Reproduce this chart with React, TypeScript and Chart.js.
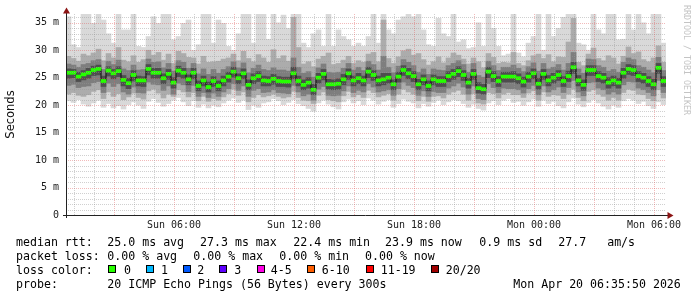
import React, { useEffect, useRef } from 'react';
import { Chart, registerables } from 'chart.js';

Chart.register(...registerables);

// ---- time axis (hours since Sun 00:00) ----
const startHour = 0.6;
const endHour = 30.6;
const binHours = 0.25;

// ---- median rtt per bin (ms) ----
const median = [
  25.9, 25.9, 25.2, 25.6, 25.9, 26.4, 26.6, 24.4, 26.3, 25.8,
  26.2, 24.6, 24.0, 25.5, 24.5, 24.5, 26.6, 25.9, 25.9, 24.9,
  25.7, 24.1, 26.3, 25.9, 24.7, 25.9, 23.5, 24.5, 23.3, 24.4,
  23.5, 24.5, 25.2, 26.1, 24.9, 25.8, 23.7, 24.9, 25.3, 24.5,
  24.4, 24.8, 24.4, 24.3, 24.3, 25.8, 24.4, 23.7, 24.1, 22.8,
  25.0, 25.7, 23.8, 23.8, 23.9, 24.7, 25.8, 24.5, 24.9, 24.5,
  26.1, 25.5, 24.5, 24.7, 25.0, 23.8, 25.2, 26.4, 25.8, 25.3,
  23.8, 24.7, 23.5, 24.7, 24.4, 24.4, 25.3, 25.7, 26.2, 25.5,
  24.1, 25.7, 23.1, 22.9, 26.1, 25.3, 24.4, 25.2, 25.2, 25.2,
  24.9, 24.3, 25.2, 25.8, 23.9, 25.7, 24.5, 25.0, 25.5, 24.4,
  25.3, 26.9, 24.5, 23.7, 26.4, 26.4, 25.3, 25.0, 24.1, 24.5,
  24.1, 25.9, 26.6, 26.4, 25.3, 25.0, 24.4, 23.8, 26.8, 24.4,
];

// ---- smoke: outermost (lightest) band ----
const smokeMax = [
  36.1, 31.0, 30.5, 37, 37, 34.9, 37, 35.5, 33.0, 31.3,
  37, 33.7, 33.7, 37, 30.7, 30.5, 32.5, 36.1, 34.9, 37,
  37, 31.9, 32.5, 34.9, 35.5, 30.0, 31.0, 37, 37, 31.3,
  35.5, 34.9, 30.7, 30.0, 33.0, 37, 37, 31.3, 37, 37,
  32.0, 37, 35.0, 36.4, 34.0, 37, 37, 31.3, 30.5, 33.0,
  33.7, 30.7, 37, 30.7, 33.7, 32.5, 31.9, 30.7, 31.3, 30.7,
  32.5, 37, 31.3, 37, 33.7, 33.0, 35.5, 36.1, 37, 36.1,
  37, 33.7, 31.0, 30.7, 35.8, 33.0, 32.5, 37, 31.5, 31.9,
  30.3, 30.5, 35.0, 30.7, 37, 34.0, 30.7, 29.0, 29.3, 37,
  29.5, 28.8, 31.3, 32.5, 37, 30.0, 37, 32.5, 34.0, 36.0,
  37, 37, 31.3, 31.0, 30.0, 37, 33.7, 33.0, 37, 37,
  31.9, 32.0, 37, 33.7, 37, 35.0, 33.0, 37, 37, 31.3,
];
const smokeMin = [
  20.8, 20.5, 21.0, 20.2, 19.8, 20.4, 20.9, 19.6, 20.3, 19.5,
  19.9, 19.3, 20.1, 20.6, 20.0, 19.4, 20.7, 21.2, 20.5, 19.8,
  20.3, 20.9, 21.4, 20.6, 19.9, 20.8, 19.6, 20.2, 19.5, 20.0,
  19.7, 20.4, 20.9, 21.3, 20.5, 20.9, 19.2, 20.0, 19.6, 20.4,
  20.6, 21.2, 20.8, 20.1, 20.5, 21.0, 20.3, 19.9, 19.4, 18.9,
  20.4, 20.9, 20.2, 19.7, 19.3, 20.6, 21.1, 20.4, 20.8, 20.1,
  21.3, 20.9, 20.2, 20.7, 21.0, 19.6, 20.3, 21.1, 20.7, 20.4,
  19.5, 20.3, 19.8, 20.5, 20.9, 20.1, 20.6, 21.0, 20.8, 20.3,
  19.6, 20.2, 19.4, 19.1, 20.4, 20.8, 20.1, 20.9, 21.2, 20.5,
  20.7, 20.0, 20.6, 21.1, 19.8, 20.9, 20.3, 20.7, 19.9, 19.5,
  20.6, 21.3, 20.2, 19.7, 20.5, 21.0, 20.4, 19.8, 19.3, 20.0,
  19.6, 20.8, 21.2, 20.9, 20.3, 20.7, 19.9, 19.4, 20.6, 20.1,
];

// ---- smoke: second band ----
const midHi = [
  28.9, 28.5, 28.0, 29.3, 29.0, 29.5, 30.2, 28.1, 29.4, 28.6,
  30.5, 28.2, 27.9, 29.0, 27.8, 28.3, 30.0, 29.1, 29.6, 28.2,
  29.3, 27.6, 29.8, 29.4, 28.7, 28.6, 27.5, 28.9, 27.8, 27.9,
  28.0, 28.4, 28.6, 29.3, 28.1, 29.8, 28.5, 27.9, 29.2, 28.6,
  27.8, 30.1, 28.5, 29.0, 28.0, 36.0, 30.5, 27.5, 27.9, 27.0,
  28.4, 28.9, 29.5, 27.4, 27.6, 28.2, 28.9, 27.6, 28.1, 27.8,
  29.3, 29.6, 27.9, 35.5, 28.5, 27.6, 28.8, 29.9, 30.2, 29.1,
  29.4, 28.3, 27.3, 27.9, 28.8, 27.7, 28.6, 29.5, 29.1, 28.4,
  27.5, 28.6, 27.9, 26.8, 29.4, 28.7, 27.6, 27.8, 27.7, 29.6,
  27.6, 27.2, 28.1, 29.0, 29.3, 28.5, 29.2, 27.9, 28.8, 28.7,
  31.5, 35.8, 27.8, 27.2, 29.3, 30.4, 28.5, 28.1, 29.0, 28.6,
  27.5, 28.9, 30.6, 29.4, 29.7, 28.3, 27.9, 28.6, 30.8, 27.8,
];
const midLo = [
  22.0, 22.3, 21.8, 21.6, 21.9, 22.5, 22.8, 21.2, 22.4, 21.6,
  22.1, 21.0, 21.5, 22.2, 21.4, 21.1, 22.6, 22.9, 22.2, 21.3,
  22.0, 21.6, 22.8, 22.4, 21.5, 22.3, 20.8, 21.6, 20.7, 21.2,
  20.9, 21.5, 22.1, 22.9, 21.8, 22.4, 20.6, 21.4, 21.9, 21.5,
  21.7, 22.0, 21.6, 21.3, 21.5, 22.5, 21.4, 20.9, 20.8, 20.3,
  21.8, 22.4, 21.0, 20.8, 20.6, 21.7, 22.5, 21.5, 21.9, 21.4,
  22.7, 22.3, 21.5, 21.8, 22.1, 20.9, 22.0, 22.9, 22.4, 22.0,
  20.8, 21.6, 20.7, 21.6, 21.7, 21.3, 22.0, 22.4, 22.7, 22.0,
  20.9, 22.1, 20.4, 20.2, 22.3, 22.1, 21.3, 22.0, 22.3, 21.9,
  21.9, 21.4, 22.2, 22.6, 20.9, 22.4, 21.6, 21.9, 21.8, 21.2,
  22.0, 22.9, 21.4, 20.8, 22.5, 22.8, 22.0, 21.6, 20.9, 21.4,
  20.9, 22.3, 22.9, 22.7, 22.0, 21.9, 21.2, 20.8, 22.8, 21.3,
];

// ---- smoke: third band ----
const darkHi = [
  27.5, 27.3, 26.9, 27.4, 27.6, 28.1, 28.3, 26.5, 28.0, 27.4,
  28.2, 26.6, 26.3, 27.3, 26.4, 26.5, 28.4, 27.8, 27.9, 26.8,
  27.6, 26.2, 28.1, 27.8, 26.7, 27.6, 25.7, 26.6, 25.6, 26.5,
  25.8, 26.5, 27.0, 27.9, 26.8, 27.7, 25.9, 26.7, 27.3, 26.5,
  26.3, 26.8, 26.4, 26.4, 26.2, 28.6, 26.9, 25.8, 26.1, 25.1,
  26.8, 27.5, 26.0, 25.9, 26.0, 26.7, 27.6, 26.4, 26.9, 26.3,
  28.0, 27.4, 26.4, 28.9, 26.9, 25.9, 27.1, 28.3, 27.8, 27.2,
  26.0, 26.6, 25.6, 26.6, 26.4, 26.3, 27.2, 27.6, 28.1, 27.4,
  26.0, 27.6, 25.4, 25.1, 28.0, 27.2, 26.3, 26.9, 26.9, 27.3,
  26.7, 26.1, 27.0, 27.7, 26.2, 27.6, 26.6, 26.9, 27.4, 26.4,
  27.6, 29.6, 26.6, 25.8, 28.4, 28.3, 27.2, 26.9, 26.2, 26.5,
  26.0, 27.8, 28.6, 28.3, 27.2, 26.9, 26.4, 25.9, 28.7, 26.3,
];
const darkLo = [
  23.6, 23.8, 23.2, 23.4, 23.5, 24.1, 24.3, 22.3, 24.0, 23.4,
  23.9, 22.4, 22.0, 23.3, 22.3, 22.2, 24.2, 23.8, 23.7, 22.7,
  23.5, 22.0, 24.0, 23.7, 22.5, 23.6, 21.6, 22.3, 21.4, 22.2,
  21.6, 22.4, 23.0, 23.9, 22.7, 23.5, 21.6, 22.7, 23.0, 22.3,
  22.4, 22.8, 22.3, 22.2, 22.1, 23.6, 22.4, 21.7, 22.0, 20.9,
  22.9, 23.4, 21.8, 21.7, 21.8, 22.6, 23.5, 22.3, 22.7, 22.4,
  23.9, 23.3, 22.4, 22.6, 22.8, 21.8, 23.0, 24.2, 23.6, 23.2,
  21.8, 22.6, 21.6, 22.5, 22.3, 22.3, 23.1, 23.5, 24.0, 23.3,
  22.0, 23.5, 21.2, 21.0, 23.9, 23.2, 22.3, 23.1, 23.0, 23.0,
  22.8, 22.2, 23.0, 23.6, 21.9, 23.5, 22.4, 22.8, 23.3, 22.3,
  23.2, 24.5, 22.4, 21.7, 24.1, 24.2, 23.1, 22.8, 22.0, 22.4,
  22.0, 23.7, 24.3, 24.2, 23.1, 22.8, 22.3, 21.7, 24.5, 22.3,
];

// ---- smoke: core band ----
const coreHi = [
  26.6, 26.5, 26.0, 26.3, 26.7, 27.1, 27.3, 25.3, 27.0, 26.5,
  27.0, 25.4, 24.9, 26.3, 25.3, 25.2, 27.4, 26.7, 26.7, 25.7,
  26.5, 25.0, 27.1, 26.7, 25.5, 26.7, 24.4, 25.3, 24.2, 25.2,
  24.4, 25.3, 26.0, 26.9, 25.7, 26.6, 24.6, 25.7, 26.1, 25.3,
  25.2, 25.6, 25.2, 25.1, 25.1, 26.9, 25.3, 24.6, 25.0, 23.8,
  25.8, 26.5, 24.7, 24.6, 24.8, 25.6, 26.6, 25.3, 25.8, 25.3,
  26.9, 26.3, 25.3, 25.8, 25.8, 24.6, 26.0, 27.2, 26.7, 26.1,
  24.7, 25.5, 24.4, 25.5, 25.2, 25.2, 26.1, 26.5, 27.0, 26.3,
  24.9, 26.5, 24.1, 23.8, 26.9, 26.1, 25.2, 26.0, 26.0, 26.1,
  25.7, 25.1, 26.0, 26.6, 24.9, 26.5, 25.4, 25.8, 26.3, 25.2,
  26.2, 27.8, 25.4, 24.6, 27.2, 27.2, 26.1, 25.8, 25.0, 25.3,
  24.9, 26.7, 27.4, 27.2, 26.1, 25.8, 25.2, 24.7, 27.6, 25.2,
];
const coreLo = [
  24.9, 25.0, 24.3, 24.6, 24.9, 25.4, 25.5, 23.4, 25.3, 24.8,
  25.2, 23.5, 23.0, 24.4, 23.5, 23.4, 25.5, 24.9, 24.9, 23.9,
  24.7, 23.1, 25.2, 24.9, 23.7, 24.8, 22.6, 23.5, 22.4, 23.4,
  22.6, 23.5, 24.2, 25.1, 23.9, 24.8, 22.8, 23.9, 24.3, 23.5,
  23.5, 23.8, 23.4, 23.4, 23.3, 24.8, 23.5, 22.8, 23.1, 21.9,
  24.0, 24.6, 22.9, 22.8, 22.9, 23.7, 24.7, 23.5, 23.9, 23.5,
  25.0, 24.5, 23.5, 23.7, 24.0, 22.8, 24.2, 25.4, 24.8, 24.3,
  22.8, 23.7, 22.6, 23.7, 23.4, 23.4, 24.3, 24.7, 25.2, 24.5,
  23.1, 24.7, 22.2, 22.0, 25.0, 24.3, 23.4, 24.2, 24.2, 24.2,
  23.9, 23.3, 24.2, 24.8, 22.9, 24.7, 23.5, 24.0, 24.5, 23.4,
  24.3, 25.8, 23.5, 22.7, 25.4, 25.4, 24.3, 24.0, 23.1, 23.5,
  23.1, 24.9, 25.6, 25.4, 24.3, 24.0, 23.4, 22.8, 25.8, 23.4,
];

// ---- axis ticks ----
const xTickHours = [6, 12, 18, 24, 30];
const xTickLabels = ['Sun 06:00', 'Sun 12:00', 'Sun 18:00', 'Mon 00:00', 'Mon 06:00'];
const yTickValues = [0, 5, 10, 15, 20, 25, 30, 35];
const yTickLabels = ['0', '5 m', '10 m', '15 m', '20 m', '25 m', '30 m', '35 m'];
const yMax = 36.6;

// ---- legend texts ----
const rttLabel = 'median rtt:';
const rttStats = ['25.0 ms avg', '27.3 ms max', '22.4 ms min', '23.9 ms now', '0.9 ms sd', '27.7   am/s'];
const lossLabel = 'packet loss:';
const lossStats = ['0.00 % avg', '0.00 % max', '0.00 % min', '0.00 % now'];
const lossColorLabel = 'loss color:';
const lossNames = ['0', '1', '2', '3', '4-5', '6-10', '11-19', '20/20'];
const lossColors = ['#26ff00', '#00b8ff', '#0059ff', '#5e00ff', '#ff00e6', '#ff5e00', '#ff0000', '#a00000'];
const probeLabel = 'probe:';
const probeText = '20 ICMP Echo Pings (56 Bytes) every 300s';
const stampText = 'Mon Apr 20 06:35:50 2026';
const watermark = 'RRDTOOL / TOBI OETIKER';

// layout positions (px) for legend pieces
const rttX = [107.3, 200, 293.3, 385, 479.3, 558.3];
const lossX = [107.3, 193.3, 279.3, 365];
const swatchX = [108.3, 145.7, 182.7, 219.3, 256.7, 306.7, 365.7, 430.7];
const swatchLabelX = [124, 161, 197.3, 234.3, 270.7, 321.7, 380.7, 445.7];

const binCenter = (i: number) => startHour + binHours * (i + 0.5);
const band = (lo: number[], hi: number[]) => lo.map((l, i) => ({ x: binCenter(i), y: [l, hi[i]] }));

const MONO = "'DejaVu Sans Mono', monospace";

// dotted rrdtool-style grid, drawn over the smoke through the chart's scales
const gridPlugin = {
  id: 'rrdGrid',
  afterDatasetsDraw(chart: any) {
    const { ctx, chartArea, scales } = chart;
    const { left, right, top, bottom } = chartArea;
    const xs = scales.x;
    const ys = scales.y;
    ctx.save();
    ctx.lineWidth = 1;
    ctx.setLineDash([1, 1]);
    const minor = 'rgba(150,150,150,0.45)';
    const major = 'rgba(225,90,90,0.42)';
    for (let v = 1; v <= 36; v++) {
      const py = Math.round(ys.getPixelForValue(v)) + 0.5;
      ctx.strokeStyle = v % 5 === 0 ? major : minor;
      ctx.beginPath();
      ctx.moveTo(left, py);
      ctx.lineTo(right, py);
      ctx.stroke();
    }
    for (let h = 1; h <= 30; h++) {
      const px = Math.round(xs.getPixelForValue(h)) + 0.5;
      ctx.strokeStyle = h % 3 === 0 ? major : minor;
      ctx.beginPath();
      ctx.moveTo(px, top);
      ctx.lineTo(px, bottom);
      ctx.stroke();
    }
    ctx.restore();
  },
};

const axesPlugin = {
  id: 'rrdAxes',
  afterDraw(chart: any) {
    const { ctx, chartArea } = chart;
    const { left, right, top, bottom } = chartArea;
    ctx.save();
    ctx.strokeStyle = '#222';
    ctx.lineWidth = 1;
    ctx.beginPath();
    ctx.moveTo(left + 0.5, bottom + 3);
    ctx.lineTo(left + 0.5, top - 1);
    ctx.moveTo(left - 3, bottom + 0.5);
    ctx.lineTo(right + 2, bottom + 0.5);
    ctx.stroke();
    ctx.fillStyle = '#8c1414';
    ctx.beginPath();
    ctx.moveTo(left + 0.5 - 3.5, top - 0.5);
    ctx.lineTo(left + 0.5 + 3.5, top - 0.5);
    ctx.lineTo(left + 0.5, top - 6.5);
    ctx.closePath();
    ctx.fill();
    ctx.beginPath();
    ctx.moveTo(right + 1.5, bottom + 0.5 - 3.5);
    ctx.lineTo(right + 1.5, bottom + 0.5 + 3.5);
    ctx.lineTo(right + 7.5, bottom + 0.5);
    ctx.closePath();
    ctx.fill();
    ctx.restore();
  },
};

export default function App() {
  const ref = useRef<HTMLCanvasElement | null>(null);

  useEffect(() => {
    document.body.style.margin = '0';
    const canvas = ref.current;
    if (!canvas) return;
    const barCommon = {
      type: 'bar' as const,
      grouped: false,
      barPercentage: 1,
      categoryPercentage: 1,
      borderWidth: 0,
      clip: 0,
    };
    const chart = new Chart(canvas, {
      type: 'bar',
      data: {
        datasets: [
          {
            ...barCommon,
            label: 'median',
            data: median.map((m, i) => ({ x: binCenter(i), y: [m - 0.28, m + 0.28] })),
            backgroundColor: '#26ff00',
            order: 0,
          } as any,
          {
            type: 'line',
            label: 'median line',
            data: median.map((m, i) => ({ x: binCenter(i), y: m })),
            stepped: 'middle',
            borderColor: '#111111',
            borderWidth: 1,
            pointRadius: 0,
            fill: false,
            order: 1,
          } as any,
          { ...barCommon, label: 'core', data: band(coreLo, coreHi), backgroundColor: '#4e4e4e', order: 2 } as any,
          { ...barCommon, label: 'dark', data: band(darkLo, darkHi), backgroundColor: '#7e7e7e', order: 3 } as any,
          { ...barCommon, label: 'mid', data: band(midLo, midHi), backgroundColor: '#acacac', order: 4 } as any,
          { ...barCommon, label: 'light', data: band(smokeMin, smokeMax), backgroundColor: '#d9d9d9', order: 5 } as any,
        ],
      },
      options: {
        animation: false,
        responsive: false,
        devicePixelRatio: 1,
        events: [],
        layout: { padding: { top: 14, right: 31, left: 0, bottom: 0 } },
        plugins: { legend: { display: false }, tooltip: { enabled: false }, title: { display: false } },
        scales: {
          x: {
            type: 'linear',
            min: startHour,
            max: endHour,
            offset: false,
            afterFit: (s: any) => { s.height = 82; },
            afterBuildTicks: (s: any) => {
              s.ticks = xTickHours.map((h) => ({ value: h }));
            },
            ticks: {
              autoSkip: false,
              maxRotation: 0,
              padding: 4,
              color: '#1a1a1a',
              font: { family: MONO, size: 10 },
              callback: (v: any) => {
                const k = xTickHours.indexOf(Number(v));
                return k >= 0 ? xTickLabels[k] : '';
              },
            },
            grid: { display: false, offset: false, drawTicks: false },
            border: { display: false },
          } as any,
          y: {
            type: 'linear',
            min: 0,
            max: yMax,
            stacked: false,
            afterFit: (s: any) => { s.width = 66; },
            afterBuildTicks: (s: any) => {
              s.ticks = yTickValues.map((v) => ({ value: v }));
            },
            title: {
              display: true,
              text: 'Seconds',
              color: '#111',
              font: { family: "'DejaVu Sans', sans-serif", size: 11.5 },
              padding: { top: 4, bottom: 0 },
            },
            ticks: {
              autoSkip: false,
              padding: 7,
              color: '#1a1a1a',
              font: { family: MONO, size: 10 },
              callback: (v: any) => {
                const k = yTickValues.indexOf(Number(v));
                return k >= 0 ? yTickLabels[k] : '';
              },
            },
            grid: { display: false, drawTicks: false },
            border: { display: false },
          } as any,
        },
      },
      plugins: [gridPlugin, axesPlugin],
    } as any);
    return () => chart.destroy();
  }, []);

  const txt: React.CSSProperties = {
    position: 'absolute',
    fontFamily: MONO,
    fontSize: '11.6px',
    lineHeight: '14px',
    whiteSpace: 'pre',
    color: '#000',
  };
  const rowTop = [234.5, 248.5, 262.5, 276.5];

  return (
    <div style={{ position: 'relative', width: 697, height: 297, background: '#fff', overflow: 'hidden' }}>
      <canvas ref={ref} width={697} height={297} style={{ position: 'absolute', left: 0, top: 0 }} />
      <div
        style={{
          position: 'absolute',
          left: 682,
          top: 5,
          writingMode: 'vertical-rl',
          fontFamily: MONO,
          fontSize: '8.3px',
          lineHeight: '10px',
          color: '#c4c4c4',
          whiteSpace: 'pre',
        }}
      >
        {watermark}
      </div>

      <div style={{ ...txt, left: 16, top: rowTop[0] }}>{rttLabel}</div>
      {rttStats.map((s, i) => (
        <div key={'r' + i} style={{ ...txt, left: rttX[i], top: rowTop[0] }}>{s}</div>
      ))}

      <div style={{ ...txt, left: 16, top: rowTop[1] }}>{lossLabel}</div>
      {lossStats.map((s, i) => (
        <div key={'l' + i} style={{ ...txt, left: lossX[i], top: rowTop[1] }}>{s}</div>
      ))}

      <div style={{ ...txt, left: 16, top: rowTop[2] }}>{lossColorLabel}</div>
      {lossNames.map((n, i) => (
        <React.Fragment key={'c' + i}>
          <div
            style={{
              position: 'absolute',
              left: swatchX[i],
              top: 265,
              width: 8,
              height: 8,
              boxSizing: 'border-box',
              border: '1px solid #000',
              background: lossColors[i],
            }}
          />
          <div style={{ ...txt, left: swatchLabelX[i], top: rowTop[2] }}>{n}</div>
        </React.Fragment>
      ))}

      <div style={{ ...txt, left: 16, top: rowTop[3] }}>{probeLabel}</div>
      <div style={{ ...txt, left: 107.3, top: rowTop[3] }}>{probeText}</div>
      <div style={{ ...txt, left: 513.3, top: rowTop[3] }}>{stampText}</div>
    </div>
  );
}
